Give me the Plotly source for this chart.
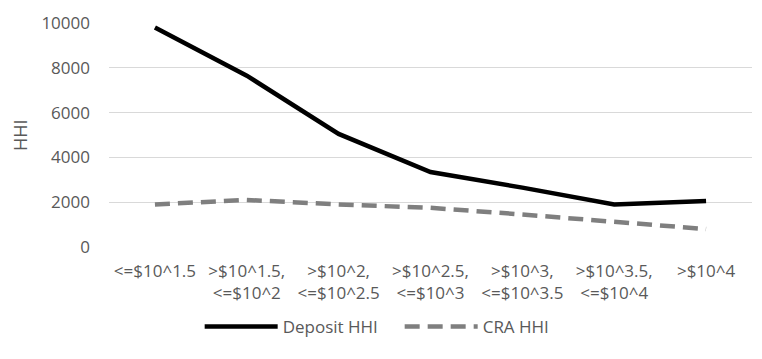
import plotly.graph_objects as go

categories = ["<=$10^1.5", ">$10^1.5,<br><=$10^2", ">$10^2,<br><=$10^2.5",
              ">$10^2.5,<br><=$10^3", ">$10^3,<br><=$10^3.5", ">$10^3.5,<br><=$10^4", ">$10^4"]
deposit_hhi = [9800, 7650, 5050, 3350, 2650, 1900, 2050]
cra_hhi = [1900, 2100, 1900, 1750, 1450, 1100, 800]
y_ticks = [0, 2000, 4000, 6000, 8000, 10000]
y_tick_labels = ["0", "2000", "4000", "6000", "8000", "10000"]

FONT = "Open Sans"
TXT = "#595959"

fig = go.Figure()
fig.add_trace(go.Scatter(x=categories, y=deposit_hhi, mode="lines", name="Deposit HHI",
                         line=dict(color="#000000", width=4.5)))
fig.add_trace(go.Scatter(x=categories, y=cra_hhi, mode="lines", name="CRA HHI",
                         line=dict(color="#7f7f7f", width=4.5, dash="15px,8px")))

fig.update_layout(
    width=762, height=359,
    margin=dict(l=101, r=18, t=15, b=120, autoexpand=False),
    paper_bgcolor="white", plot_bgcolor="white",
    font=dict(family=FONT, size=17, color=TXT),
    showlegend=True,
    legend=dict(orientation="h", x=0.514, xanchor="center", xref="container",
                y=-0.357, yanchor="middle", font=dict(size=17, color=TXT),
                itemwidth=73, entrywidth=112),
    xaxis=dict(type="category", range=[-0.5, 6.5], showgrid=False, showline=False,
               zeroline=False, ticks="", automargin=False, ticklabelstandoff=12,
               tickfont=dict(size=17, color=TXT)),
    yaxis=dict(range=[0, 10000], tickvals=y_ticks, ticktext=y_tick_labels,
               showgrid=True, gridcolor="#d9d9d9",
               gridwidth=1, zeroline=False, showline=False, ticks="", automargin=False,
               tickfont=dict(size=17, color=TXT), ticklabelstandoff=18),
    annotations=[dict(text="HHI", xref="paper", yref="paper", x=-0.1384, y=0.5,
                      xanchor="center", yanchor="middle", textangle=-90,
                      showarrow=False, font=dict(size=18, color=TXT))],
)

fig.write_html("out.html")
